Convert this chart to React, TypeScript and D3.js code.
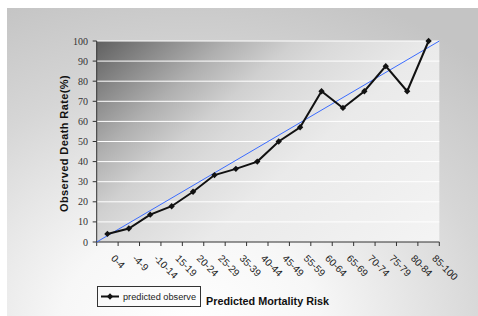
import * as d3 from 'd3'

const categories = ['0-4', '-4-9', '-10-14', '15-19', '20-24', '25-29', '35-39', '40-44', '45-49', '55-59', '60-64', '65-69', '70-74', '75-79', '80-84', '85-100']
const observed = [4, 6.7, 13.6, 17.8, 25, 33.3, 36.4, 40, 50, 57.1, 75, 66.7, 75, 87.5, 75, 100]
const referenceLine = [0, 100]
const yTicks = [0, 10, 20, 30, 40, 50, 60, 70, 80, 90, 100]
const seriesName = 'predicted observe'

const W = 478
const H = 316
const PLOT = { left: 96.7, right: 439.3, top: 41, bottom: 242 }

export default function App() {
  const x = d3.scaleBand<string>().domain(categories).range([PLOT.left, PLOT.right]).padding(0)
  const xLin = d3.scaleLinear().domain([0, 100]).range([PLOT.left, PLOT.right])
  const y = d3.scaleLinear().domain([0, 100]).range([PLOT.bottom, PLOT.top])
  const cx = (c: string) => (x(c) ?? 0) + x.bandwidth() / 2

  const linePath = d3.line<number>()
    .x((_, i) => cx(categories[i]))
    .y(d => y(d))(observed) ?? ''

  const marker = d3.symbol(d3.symbolSquare, 20)() ?? ''
  const tickXs = [...categories.map(c => x(c) ?? 0), PLOT.right]

  return (
    <svg width={W} height={H} style={{ position: 'absolute', left: 0, top: 0, display: 'block' }}>
      <defs>
        <radialGradient id="outerBg" gradientUnits="userSpaceOnUse" cx={190} cy={330} r={360}
          gradientTransform="translate(190 330) scale(1.2 1) translate(-190 -330)">
          <stop offset="0" stopColor="#ffffff" />
          <stop offset="0.3" stopColor="#f7f7f7" />
          <stop offset="0.7" stopColor="#d6d6d6" />
          <stop offset="1" stopColor="#c4c4c4" />
        </radialGradient>
        <linearGradient id="plotBg" gradientUnits="userSpaceOnUse" x1={PLOT.left} y1={PLOT.top} x2={346} y2={328}>
          <stop offset="0" stopColor="#606060" />
          <stop offset="0.124" stopColor="#8c8c8c" />
          <stop offset="0.228" stopColor="#b0b0b0" />
          <stop offset="0.345" stopColor="#d0d0d0" />
          <stop offset="0.414" stopColor="#dadada" />
          <stop offset="0.586" stopColor="#eaeaea" />
          <stop offset="1" stopColor="#f4f4f4" />
        </linearGradient>
      </defs>

      {/* chart area */}
      <rect x={7} y={8} width={W - 7} height={H - 8} fill="url(#outerBg)" />

      {/* plot area */}
      <rect x={PLOT.left} y={PLOT.top} width={PLOT.right - PLOT.left} height={PLOT.bottom - PLOT.top} fill="url(#plotBg)" />

      {/* grid */}
      {yTicks.filter(t => t > 0).map(t => (
        <line key={t} x1={PLOT.left} x2={PLOT.right} y1={y(t)} y2={y(t)} stroke="#ffffff" strokeWidth={1} />
      ))}

      {/* y axis */}
      <line x1={PLOT.left} x2={PLOT.left} y1={PLOT.top} y2={PLOT.bottom} stroke="#333" strokeWidth={1} />
      {yTicks.map(t => (
        <g key={t}>
          <line x1={PLOT.left - 4} x2={PLOT.left} y1={y(t)} y2={y(t)} stroke="#333" />
          <text x={88} y={y(t) + 3.5} textAnchor="end" fontFamily="'Liberation Serif', 'Times New Roman', serif" fontSize={10} fill="#333">{t}</text>
        </g>
      ))}
      <text transform={`translate(68,${(PLOT.top + PLOT.bottom) / 2 + 2}) rotate(-90)`} textAnchor="middle"
        fontFamily="'Liberation Sans', Arial, sans-serif" fontWeight="bold" fontSize={11} letterSpacing={0.4} fill="#111">
        Observed Death Rate(%)
      </text>

      {/* x axis */}
      <line x1={PLOT.left} x2={PLOT.right} y1={PLOT.bottom} y2={PLOT.bottom} stroke="#333" strokeWidth={1} />
      {tickXs.map((tx, i) => (
        <line key={i} x1={tx} x2={tx} y1={PLOT.bottom} y2={PLOT.bottom + 4} stroke="#333" />
      ))}
      {categories.map(c => (
        <text key={c} transform={`translate(${cx(c) + 3},${PLOT.bottom + 17}) rotate(45)`}
          fontFamily="'Liberation Sans', Arial, sans-serif" fontSize={10} fill="#222">{c}</text>
      ))}

      {/* reference diagonal */}
      <line x1={xLin(referenceLine[0])} y1={y(referenceLine[0])} x2={xLin(referenceLine[1])} y2={y(referenceLine[1])}
        stroke="#3b6cff" strokeWidth={1} />

      {/* observed series */}
      <path d={linePath} fill="none" stroke="#111" strokeWidth={2} />
      {observed.map((v, i) => (
        <path key={i} d={marker} transform={`translate(${cx(categories[i])},${y(v)}) rotate(45)`} fill="#111" />
      ))}

      {/* legend */}
      <rect x={97.5} y={286.5} width={103} height={20} fill="none" stroke="#333" strokeWidth={1} />
      <line x1={101} x2={119} y1={296.5} y2={296.5} stroke="#111" strokeWidth={2} />
      <path d={marker} transform="translate(110,296.5) rotate(45)" fill="#111" />
      <text x={123} y={299.5} fontFamily="'Liberation Sans', Arial, sans-serif" fontSize={9.2} fill="#222">{seriesName}</text>

      <text x={206} y={305} fontFamily="'Liberation Sans', Arial, sans-serif" fontWeight="bold" fontSize={10.8} fill="#111">
        Predicted Mortality Risk
      </text>
    </svg>
  )
}
